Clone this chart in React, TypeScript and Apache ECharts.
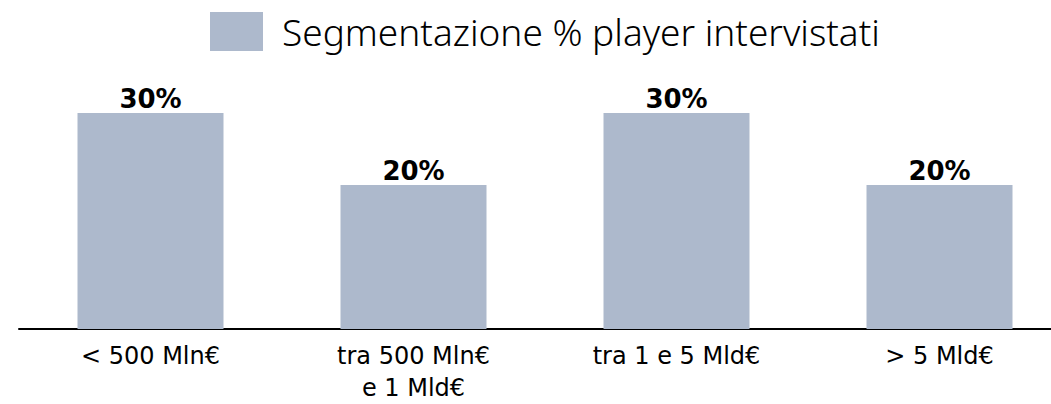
import React, { useEffect, useRef } from "react";
import * as echarts from "echarts";

const categories = ["< 500 Mln€", "tra 500 Mln€\ne 1 Mld€", "tra 1 e 5 Mld€", "> 5 Mld€"];
const seriesName = "Segmentazione % player intervistati";
const values = [30, 20, 30, 20];

export default function App() {
  const ref = useRef<HTMLDivElement>(null);
  useEffect(() => {
    if (!ref.current) return;
    const chart = echarts.init(ref.current, null, { renderer: "svg" });
    const legendFont = "'Noto Sans', sans-serif";
    const font = "'DejaVu Sans', sans-serif";
    chart.setOption({
      animation: false,
      legend: {
        top: 7,
        left: 205,
        itemWidth: 53,
        itemHeight: 39,
        icon: "rect",
        textStyle: { fontFamily: legendFont, fontSize: 37, color: "#000", fontWeight: 300, padding: [0, 0, 0, 14] },
        data: [seriesName],
      },
      grid: { left: 19, right: 0, top: 41, bottom: 70 },
      xAxis: {
        type: "category",
        data: categories,
        axisLine: { lineStyle: { color: "#000", width: 2 } },
        axisTick: { show: false },
        axisLabel: { fontFamily: font, fontSize: 24, color: "#000", margin: 11, lineHeight: 32 },
      },
      yAxis: { type: "value", min: 0, max: 40, show: false, splitLine: { show: false } },
      series: [
        {
          name: seriesName,
          type: "bar",
          data: values,
          barWidth: 146,
          itemStyle: { color: "#adb9cc" },
          label: {
            show: true,
            position: "top",
            distance: 1,
            formatter: "{c}%",
            fontFamily: font,
            fontSize: 26,
            fontWeight: "bold",
            color: "#000",
          },
        },
      ],
    });
    return () => chart.dispose();
  }, []);
  return (
    <div style={{ width: 1051, height: 404, position: "absolute", left: 0, top: 0, overflow: "hidden" }}>
      <div ref={ref} style={{ width: 1071, height: 404 }} />
    </div>
  );
}
